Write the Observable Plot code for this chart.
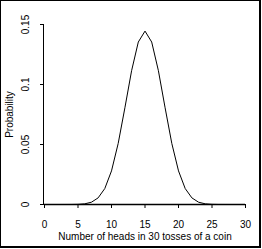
<!DOCTYPE html>
<html>
<head>
<meta charset="utf-8">
<script src="https://cdn.jsdelivr.net/npm/d3@7"></script>
<script src="https://cdn.jsdelivr.net/npm/@observablehq/plot@0.6"></script>
<style>
  html, body { margin: 0; padding: 0; background: #fff; }
  #wrap { position: relative; width: 262px; height: 249px; overflow: hidden; }
  #frame { position: absolute; left: 0; top: 0; width: 258px; height: 245px;
           border-left: 1px solid #000; border-top: 1px solid #000;
           border-right: 2px solid #000; border-bottom: 2px solid #000; pointer-events: none; }
  svg { display: block; }
</style>
</head>
<body>
<div id="wrap"><div id="frame"></div></div>
<script>
const heads = [0,1,2,3,4,5,6,7,8,9,10,11,12,13,14,15,16,17,18,19,20,21,22,23,24,25,26,27,28,29,30];
const probability = [0,0,0,0.000004,0.000025,0.00013,0.00055,0.0019,0.0055,0.0133,0.028,0.0509,0.0806,0.1115,0.1354,0.1445,0.1354,0.1115,0.0806,0.0509,0.028,0.0133,0.0055,0.0019,0.00055,0.00013,0.000025,0.000004,0,0,0];
const xTicks = [0,5,10,15,20,25,30];
const yTicks = [0,0.05,0.1,0.15];
const yTickLabels = ["0","0.05","0.1","0.15"];

const data = heads.map((k, i) => ({k, p: probability[i]}));

const chart = Plot.plot({
  width: 262,
  height: 249,
  marginLeft: 44,
  marginRight: 17,
  marginTop: 24,
  marginBottom: 45,
  style: {fontFamily: "Liberation Sans, Arial, sans-serif", fontSize: "10px", background: "transparent", color: "#000"},
  x: {domain: [0, 30]},
  y: {domain: [0, 0.15]},
  marks: [
    Plot.axisX({ticks: xTicks, tickSize: 4, tickPadding: 12, tickFormat: d => String(d),
      label: "Number of heads in 30 tosses of a coin", labelAnchor: "center", labelArrow: "none", labelOffset: 35}),
    Plot.axisY({ticks: yTicks, tickSize: 4, tickPadding: 12, tickRotate: -90,
      tickFormat: d => yTickLabels[yTicks.indexOf(d)],
      label: "Probability", labelAnchor: "center", labelArrow: "none", labelOffset: 39}),
    Plot.ruleY([0], {x1: xTicks[0], x2: xTicks[xTicks.length - 1], stroke: "#000", strokeWidth: 1.5}),
    Plot.ruleX([0], {y1: yTicks[0], y2: yTicks[yTicks.length - 1], stroke: "#000", dx: -1}),
    Plot.line(data, {x: "k", y: "p", stroke: "#000", strokeWidth: 1})
  ]
});
document.getElementById("wrap").prepend(chart);
</script>
</body>
</html>
